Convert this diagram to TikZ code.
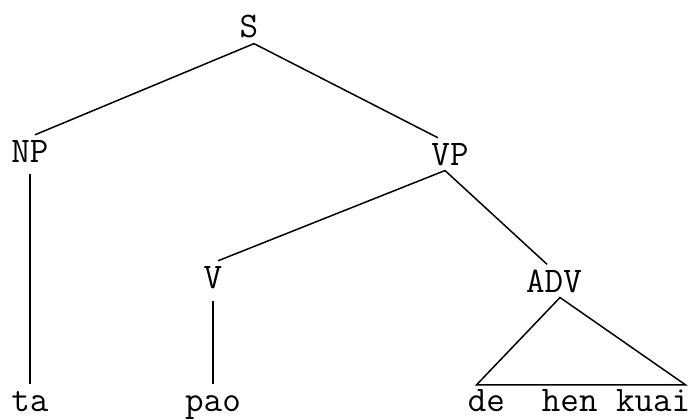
\documentclass[tikz,border=0pt]{standalone}

\begin{document}
\begin{tikzpicture}[x=1pt, y=1pt,
  cat/.style={font=\fontsize{36}{40}\selectfont\ttfamily, inner sep=5pt, anchor=base},
  leaf/.style={cat, text height=20pt, text depth=7pt, inner ysep=1pt},
  branch/.style={line width=1.5pt}]
\useasboundingbox (0,0) rectangle (694,-420);

% categories of the tree
\node[cat] (S)   at (249,-38)  {S};
\node[cat] (NP)  at (30,-162)  {NP};
\node[cat] (VP)  at (450,-165) {VP};
\node[cat] (V)   at (213,-288) {V};
\node[cat] (ADV) at (554,-292) {ADV};

% the words
\node[leaf] (ta)    at (30,-411)  {ta};
\node[leaf] (pao)   at (213,-411) {pao};
\node[leaf] (words) at (579,-411) {de~~hen kuai};

% branches
\draw[branch] ([xshift=5pt]S.south) -- ([xshift=5pt]NP.north);
\draw[branch] ([xshift=5pt]S.south) -- ([xshift=-12pt]VP.north);
\draw[branch] ([xshift=-5pt]VP.south) -- ([xshift=5pt]V.north);
\draw[branch] ([xshift=-5pt]VP.south) -- ([xshift=-7pt]ADV.north);

% unary branches down to the words
\foreach \mother/\daughter in {NP/ta, V/pao} {
  \draw[branch, shorten <=7pt, shorten >=6pt] (\mother.south) -- (\daughter.north);
}

% triangle over the adverbial phrase
\draw[branch] ([xshift=6pt]ADV.south) -- ([shift={(14pt,5pt)}]words.north west)
  -- ([shift={(-10pt,5pt)}]words.north east) -- cycle;

\end{tikzpicture}
\end{document}
